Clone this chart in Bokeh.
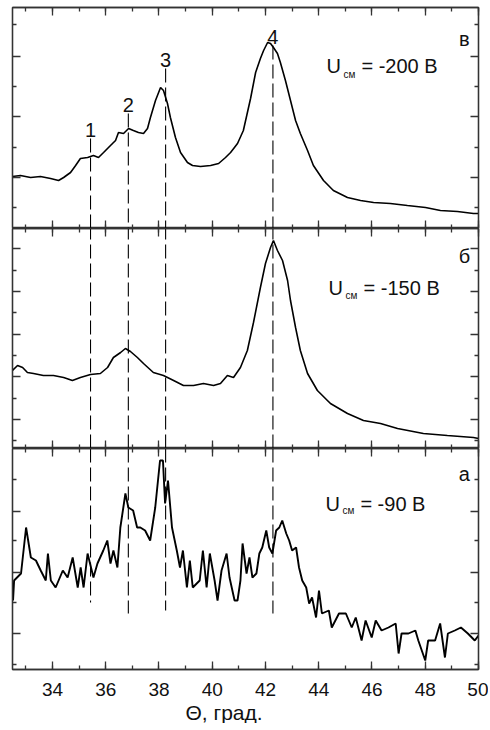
from bokeh.plotting import figure
from bokeh.layouts import column
from bokeh.models import (Range1d, LinearAxis, FixedTicker, SingleIntervalTicker,
                          Label, Title)
from bokeh.embed import file_html
from bokeh.resources import INLINE

# ---------------- data ----------------
# panel "в" : U_см = -200 В
theta_200 = [32.50, 32.80, 33.18, 33.55, 33.93, 34.23, 34.42, 34.68, 34.87, 35.05, 35.32,
             35.54, 35.73, 35.92, 36.18, 36.37, 36.48, 36.67, 36.86, 37.04, 37.23, 37.42,
             37.57, 37.68, 37.87, 38.06, 38.17, 38.32, 38.43, 38.62, 38.81, 39.07, 39.26,
             39.56, 39.94, 40.24, 40.50, 40.69, 40.95, 41.17, 41.44, 41.63, 41.81, 41.93,
             42.08, 42.19, 42.30, 42.45, 42.56, 42.75, 42.94, 43.13, 43.31, 43.58, 43.80,
             44.18, 44.55, 45.08, 45.57, 46.06, 46.69, 47.33, 48.01, 48.57, 49.21, 49.81, 50.0]
int_200 = [52, 53, 51, 52, 50, 48, 51, 56, 63, 70, 71,
           73, 71, 76, 83, 88, 96, 95, 100, 98, 96, 95,
           100, 111, 128, 141, 138, 125, 111, 91, 76, 66, 63,
           62, 63, 65, 71, 76, 85, 98, 130, 156, 170, 178,
           186, 185, 181, 175, 166, 148, 128, 108, 95, 78, 63,
           48, 38, 31, 28, 26, 25, 23, 21, 18, 17, 15, 15]

# panel "б" : U_см = -150 В
theta_150 = [32.50, 32.69, 32.88, 33.06, 33.29, 33.66, 34.04, 34.42, 34.75, 35.05, 35.43,
             35.80, 36.07, 36.29, 36.56, 36.74, 36.93, 37.19, 37.42, 37.79, 38.17, 38.55,
             38.92, 39.30, 39.67, 40.05, 40.31, 40.57, 40.80, 41.06, 41.32, 41.55, 41.81,
             42.00, 42.19, 42.30, 42.45, 42.64, 42.83, 42.94, 43.13, 43.31, 43.58, 43.95,
             44.44, 45.08, 45.68, 46.32, 46.96, 47.93, 48.83, 49.81, 50.0]
int_150 = [78, 83, 81, 76, 75, 73, 73, 71, 68, 71, 74,
           75, 81, 91, 96, 100, 97, 91, 85, 76, 73, 68,
           63, 63, 65, 63, 65, 73, 71, 81, 98, 126, 161,
           185, 201, 208, 198, 188, 168, 148, 121, 98, 75, 58,
           45, 35, 28, 25, 20, 15, 13, 11, 10]

# panel "а" : U_см = -90 В
theta_90 = [32.52, 32.56, 32.82, 33.01, 33.19, 33.38, 33.56, 33.75, 33.83, 33.94, 34.12,
            34.39, 34.57, 34.76, 34.95, 35.06, 35.17, 35.32, 35.54, 35.69, 35.91, 36.06,
            36.18, 36.29, 36.44, 36.55, 36.74, 36.85, 37.03, 37.18, 37.30, 37.48, 37.67,
            37.86, 38.04, 38.15, 38.23, 38.34, 38.49, 38.67, 38.79, 38.90, 39.05, 39.16,
            39.27, 39.53, 39.65, 39.79, 39.91, 40.09, 40.20, 40.35, 40.54, 40.65, 40.84,
            40.95, 41.06, 41.14, 41.29, 41.40, 41.51, 41.66, 41.77, 41.88, 42.03, 42.14,
            42.26, 42.40, 42.52, 42.63, 42.78, 42.89, 43.00, 43.15, 43.26, 43.38, 43.53,
            43.64, 43.75, 43.90, 44.01, 44.12, 44.38, 44.49, 44.76, 45.02, 45.24, 45.39,
            45.61, 45.76, 45.99, 46.14, 46.36, 46.62, 46.89, 47.00, 47.11, 47.37, 47.63,
            47.74, 48.00, 48.11, 48.37, 48.56, 48.74, 48.85, 49.11, 49.34, 49.60, 49.86, 50.0]
int_90 = [69, 89, 96, 142, 112, 109, 99, 89, 116, 89, 82,
          99, 92, 112, 82, 102, 82, 116, 92, 106, 119, 129,
          106, 119, 102, 142, 176, 162, 159, 142, 142, 139, 129,
          162, 209, 209, 166, 189, 142, 119, 102, 119, 82, 109,
          82, 89, 119, 82, 116, 89, 69, 99, 116, 92, 69,
          69, 89, 126, 96, 112, 92, 96, 116, 122, 139, 122,
          116, 139, 142, 149, 136, 129, 119, 122, 102, 89, 82,
          66, 72, 52, 79, 56, 59, 42, 56, 56, 42, 52,
          29, 49, 32, 49, 39, 42, 46, 16, 36, 36, 39,
          29, 9, 29, 29, 46, 12, 36, 39, 42, 36, 29, 34]

# reflection positions (dashed lines) and their labels
peak_theta = [35.43, 36.85, 38.25, 42.28]
peak_names = ["1", "2", "3", "4"]
line_top_200 = [90, 115, 160, 183]      # where the dashed line starts in the top panel
line_end_90 = [67, 56, 59, 56]          # where it ends in the bottom panel

bias_values = ["= -200 В", "= -150 В", "= -90 В"]
panel_letters = ["в", "б", "а"]

# ---------------- styling ----------------
FONT = "Liberation Sans"
AX = "#333333"
TXT = "#111111"
xr = Range1d(32.5, 50.0)


def style_axis(ax):
    ax.axis_line_color = AX
    ax.axis_line_width = 1.3
    ax.major_tick_line_color = AX
    ax.minor_tick_line_color = AX
    ax.major_tick_line_width = 1.3
    ax.minor_tick_line_width = 1.3
    ax.major_tick_in = 8
    ax.major_tick_out = 0
    ax.minor_tick_in = 4
    ax.minor_tick_out = 0
    ax.major_label_text_font_size = "0px"
    ax.major_label_text_color = None
    ax.major_label_standoff = 0
    ax.axis_label = None


def make_panel(xs, ys, ymax, majors, minors, top_b, bottom_b, lw, show_x=False):
    p = figure(frame_width=466, frame_height=ymax, x_range=xr, y_range=Range1d(0, ymax),
               output_backend="svg", toolbar_location=None,
               x_axis_location=None, y_axis_location=None,
               min_border_left=12, min_border_right=10,
               min_border_top=top_b, min_border_bottom=bottom_b)
    p.grid.visible = False
    p.outline_line_color = AX
    p.outline_line_width = 1.3
    p.background_fill_color = "white"
    p.border_fill_color = "white"

    yt = FixedTicker(ticks=majors, minor_ticks=minors)
    xt = SingleIntervalTicker(interval=2, num_minor_ticks=2)
    left = LinearAxis(ticker=yt)
    right = LinearAxis(ticker=yt)
    above = LinearAxis(ticker=xt)
    below = LinearAxis(ticker=xt)
    for ax in (left, right, above, below):
        style_axis(ax)
    if show_x:
        below.major_label_text_font_size = "19px"
        below.major_label_text_font = FONT
        below.major_label_text_color = TXT
        below.major_label_standoff = 13
    p.add_layout(left, "left")
    p.add_layout(right, "right")
    p.add_layout(above, "above")
    p.add_layout(below, "below")
    p.line(xs, ys, line_color="black", line_width=lw)
    return p


p1 = make_panel(theta_200, int_200, 221, [51, 112, 172], [21, 81, 142, 204], 7, 0, 1.6)
p2 = make_panel(theta_150, int_150, 220, [29, 72, 114, 157, 200], [8, 50, 93, 136, 178], 0, 0, 1.6)
p3 = make_panel(theta_90, int_90, 221, [36, 97, 158], [5, 67, 129, 190], 0, 20, 1.9, show_x=True)

p3.add_layout(Title(text="Θ, град.", align="left", offset=173, text_font=FONT,
                    text_font_size="21px", text_font_style="normal", text_color=TXT,
                    standoff=0), "below")

# dashed reference lines
n = len(peak_theta)
p1.segment(x0=peak_theta, y0=line_top_200, x1=peak_theta, y1=[0] * n,
           line_color="black", line_width=1.1, line_dash="14 5")
p2.segment(x0=peak_theta, y0=[0] * n, x1=peak_theta, y1=[220] * n,
           line_color="black", line_width=1.1, line_dash="14 5")
p3.segment(x0=peak_theta, y0=[221] * n, x1=peak_theta, y1=line_end_90,
           line_color="black", line_width=1.1, line_dash="14 5")

# numbered labels above the dashed lines
for xv, top, name in zip(peak_theta, line_top_200, peak_names):
    p1.add_layout(Label(x=xv, y=top, y_offset=9, text=name, text_align="center",
                        text_baseline="alphabetic", text_font=FONT,
                        text_font_size="20px", text_color=TXT))

# U_см annotations and panel letters
ann = [(p1, 44.29, 163, 154, 190), (p2, 44.37, 161, 153, 193), (p3, 44.25, 166, 159, 196)]
for (p, ux, uy, sy, ly), val, letter in zip(ann, bias_values, panel_letters):
    p.add_layout(Label(x=ux, y=uy, text="U", text_align="left", text_baseline="alphabetic",
                       text_font=FONT, text_font_size="20px", text_color=TXT))
    p.add_layout(Label(x=ux, y=sy, x_offset=17, text="см", text_align="left",
                       text_baseline="alphabetic", text_font=FONT, text_font_size="10px",
                       text_color=TXT))
    p.add_layout(Label(x=ux, y=uy, x_offset=35, text=val, text_align="left",
                       text_baseline="alphabetic", text_font=FONT, text_font_size="20px",
                       text_color=TXT))
    p.add_layout(Label(x=49.47, y=ly, text=letter, text_align="center",
                       text_baseline="alphabetic", text_font=FONT, text_font_size="20px",
                       text_color=TXT))

layout = column(p1, p2, p3, spacing=0)
open("out.html", "w").write(file_html(layout, INLINE))
